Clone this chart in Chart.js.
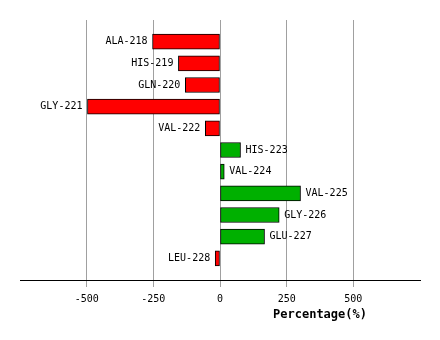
<!DOCTYPE html>
<html>
<head>
<meta charset="utf-8">
<script src="https://cdn.jsdelivr.net/npm/chart.js@4"></script>
<style>
  body { margin: 0; background: #fff; }
</style>
</head>
<body>
<canvas id="bar-chart" width="440" height="340"></canvas>
<script>
var residues = ["ALA-218", "HIS-219", "GLN-220", "GLY-221", "VAL-222", "HIS-223", "VAL-224", "VAL-225", "GLY-226", "GLU-227", "LEU-228"];
var percentages = [-253, -156, -130, -497, -55, 77, 16, 302, 222, 167, -18];
var xTicks = [-500, -250, 0, 250, 500];

var font = "DejaVu Sans Mono";

// residue name beside the end of each bar, plus the axis title
var barLabels = {
    id: "barLabels",
    afterDatasetsDraw: function(chart) {
        var ctx = chart.ctx, meta = chart.getDatasetMeta(0);
        ctx.save();
        ctx.fillStyle = "#000";
        ctx.font = "10px '" + font + "'";
        ctx.textBaseline = "middle";
        meta.data.forEach(function(bar, i) {
            var v = percentages[i];
            if (v < 0) {
                ctx.textAlign = "right";
                ctx.fillText(residues[i], bar.x - 5, bar.y);
            } else {
                ctx.textAlign = "left";
                ctx.fillText(residues[i], bar.x + 5, bar.y);
            }
        });
        ctx.font = "bold 12px '" + font + "'";
        ctx.textAlign = "center";
        ctx.fillText("Percentage(%)", 320, 315);
        ctx.restore();
    }
};

var a = document.getElementById("bar-chart"),
    data = {
        datasets: [{
            data: percentages.map(function(v, i) { return { x: v, y: i }; }),
            backgroundColor: percentages.map(function(v) { return v < 0 ? "#ff0000" : "#00b000"; }),
            borderColor: "#000",
            borderWidth: 1,
            borderSkipped: false,
            barThickness: 15
        }]
    },
    options = {
        responsive: false,
        animation: false,
        indexAxis: "y",
        layout: { padding: { left: 20, right: 20, top: 20, bottom: 0 } },
        plugins: { legend: { display: false }, tooltip: { enabled: false } },
        scales: {
            y: {
                type: "linear",
                display: false,
                reverse: true,
                offset: false,
                min: -1,
                max: 11
            },
            x: {
                type: "linear",
                min: -750,
                max: 750,
                afterBuildTicks: function(scale) {
                    scale.ticks = xTicks.map(function(v) { return { value: v }; });
                },
                afterFit: function(scale) { scale.height = 60; },
                grid: { color: "#a0a0a0", lineWidth: 1, tickLength: 7 },
                border: { color: "#000", width: 1 },
                ticks: {
                    color: "#000",
                    padding: 6,
                    maxRotation: 0,
                    font: { family: font, size: 10 }
                }
            }
        }
    };

new Chart(a, { type: "bar", data: data, options: options, plugins: [barLabels] });
</script>
</body>
</html>
